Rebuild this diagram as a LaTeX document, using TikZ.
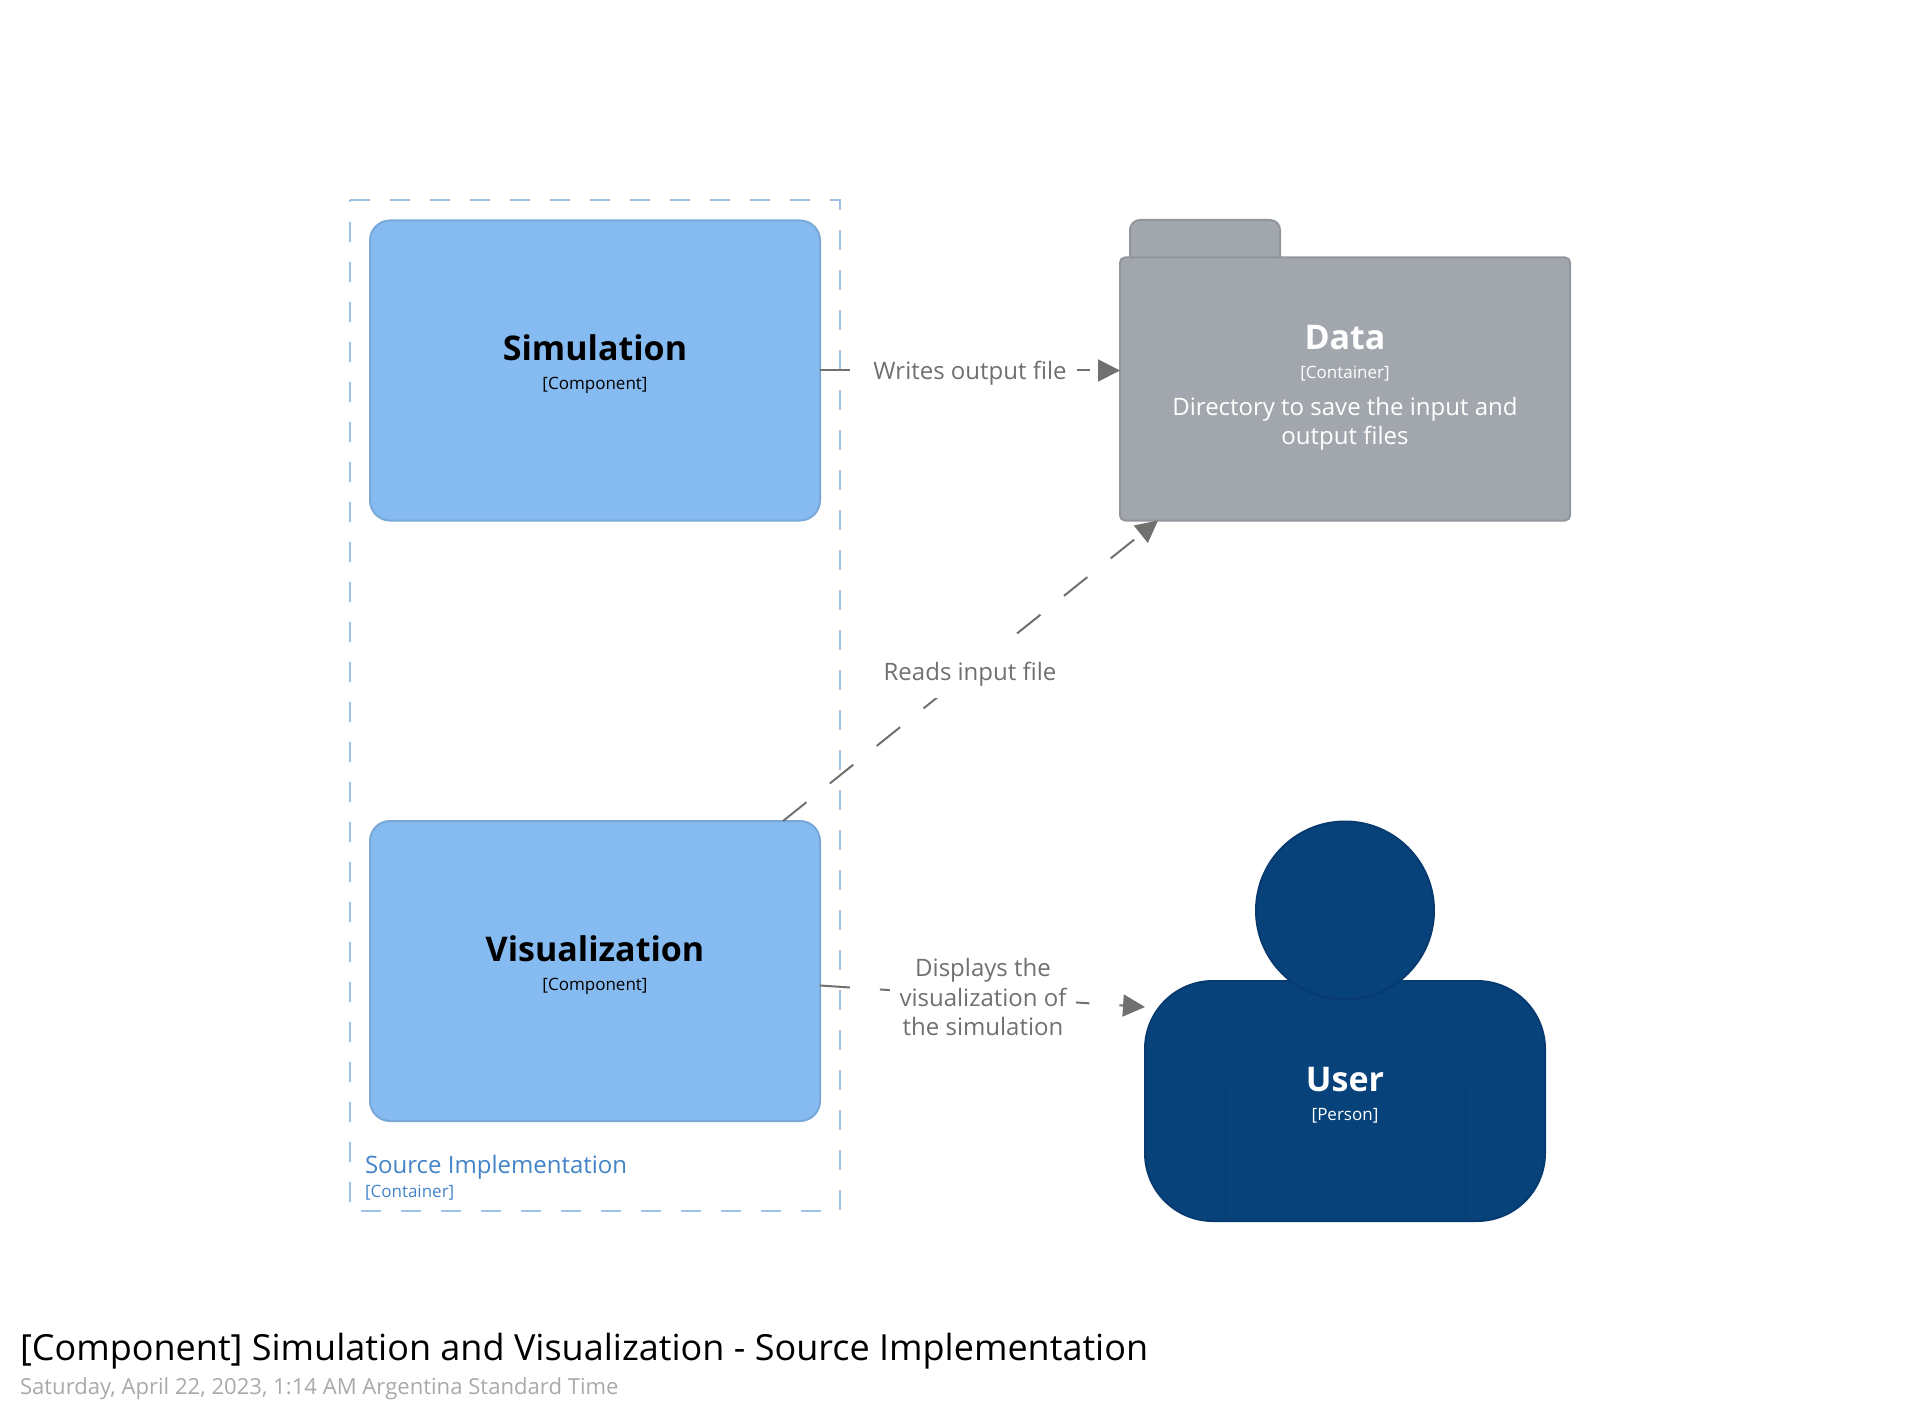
\documentclass[tikz,border=0pt]{standalone}
\usepackage{fontspec}
\setmainfont{Open Sans}
\usetikzlibrary{arrows.meta}
\definecolor{compfill}{HTML}{85BBF0}
\definecolor{compline}{HTML}{78A8D8}
\definecolor{bound}{HTML}{9FC1E3}
\definecolor{boundtext}{HTML}{4384C8}
\definecolor{datafill}{HTML}{A2A6AD}
\definecolor{dataline}{HTML}{91959C}
\definecolor{userfill}{HTML}{08427B}
\definecolor{userline}{HTML}{073B6F}
\definecolor{edgecol}{HTML}{707070}
\definecolor{datecol}{HTML}{A9A9A9}
\newcommand{\fsz}[1]{\fontsize{#1}{#1}\selectfont}
\tikzset{
  shapebox/.style={inner sep=0pt,outer sep=0pt,line width=2pt},
  compbox/.style={shapebox,draw=compline,fill=compfill,rounded corners=20pt,minimum width=450pt,minimum height=300pt},
  txt/.style={inner sep=0pt,outer sep=0pt,anchor=base},
  bigname/.style={txt,font=\fsz{34}\bfseries},
  kind/.style={txt,font=\fsz{17}},
  desc/.style={txt,font=\fsz{24},text=white},
  rel/.style={line width=2pt,draw=edgecol,dash pattern=on 30pt off 30pt,-{Triangle[length=22pt,width=22pt,fill=edgecol]}},
  elabel/.style={txt,font=\fsz{24},text=edgecol,fill=white,inner xsep=10pt,inner ysep=0pt,text height=35pt,text depth=18pt},
}
\begin{document}
\begin{tikzpicture}[x=1pt,y=-1pt]
\useasboundingbox (0,0) rectangle (1920,1420);
% boundary
\draw[line width=2pt,bound,dash pattern=on 20pt off 20pt] (350,200) -- (840,200) -- (840,1211) -- (350,1211) -- cycle;
\node[txt,anchor=base west,font=\fsz{24},text=boundtext] (boundname) at (365,1173) {Source Implementation};
\node[txt,anchor=base west,font=\fsz{17},text=boundtext] (boundkind) at (365,1197) {[Container]};
% components
\node[compbox] (sim) at (595,370.5) {};
\node[bigname] (simname) at (595,361) {Simulation};
\node[kind] (simkind) at (595,390) {[Component]};
\node[compbox] (vis) at (595,971) {};
\node[bigname] (visname) at (595,961) {Visualization};
\node[kind] (viskind) at (595,990) {[Component]};
% data folder
\node[shapebox,draw=dataline,fill=datafill,rounded corners=10pt,minimum width=150pt,minimum height=50pt] (tab) at (1205,245) {};
\node[shapebox,draw=dataline,fill=datafill,rounded corners=5pt,minimum width=450pt,minimum height=263pt] (data) at (1345,389) {};
\node[bigname,text=white] (dataname) at (1345,349.5) {Data};
\node[kind,text=white] (datakind) at (1345,379) {[Container]};
\node[desc] (dataline1) at (1345,416) {Directory to save the input and};
\node[desc] (dataline2) at (1345,444.5) {output files};
% person
\node[shapebox,draw=userline,fill=userfill,rounded corners=68pt,minimum width=400pt,minimum height=240pt] (body) at (1345,1101) {};
\node[shapebox,circle,draw=userline,fill=userfill,minimum size=178pt] (head) at (1345,910.5) {};
\coordinate (armla) at (1225,1088);
\coordinate (armra) at (1465,1088);
\draw[line width=1pt,userline] (armla) -- (armla |- body.south);
\draw[line width=1pt,userline] (armra) -- (armra |- body.south);
\node[bigname,text=white] (username) at (1345,1091) {User};
\node[kind,text=white] (userkind) at (1345,1120) {[Person]};
% relationships
\draw[rel] (sim.east) -- (sim.east -| data.west);
\draw[rel] ([xshift=-37pt]vis.north east) -- ([xshift=38pt]data.south west);
\draw[rel] ([yshift=-14.5pt]vis.east) -- ([yshift=-7.5pt]body.west |- head.south);
\node[elabel] (writes) at (970,379.5) {Writes output file};
\node[elabel] (reads) at (970,680) {Reads input file};
\node[txt,anchor=center,align=center,font=\fsz{24},text=edgecol,fill=white,inner xsep=10pt,inner ysep=4pt] (displays) at (983,997) {Displays the\\[5pt]visualization of\\[5pt]the simulation};
% title
\node[txt,anchor=base west,font=\fsz{36}] (title) at (20,1360.5) {[Component] Simulation and Visualization - Source Implementation};
\node[txt,anchor=base west,font=\fsz{22.1},text=datecol] (date) at (20,1394.5) {Saturday, April 22, 2023, 1:14 AM Argentina Standard Time};
\end{tikzpicture}
\end{document}
